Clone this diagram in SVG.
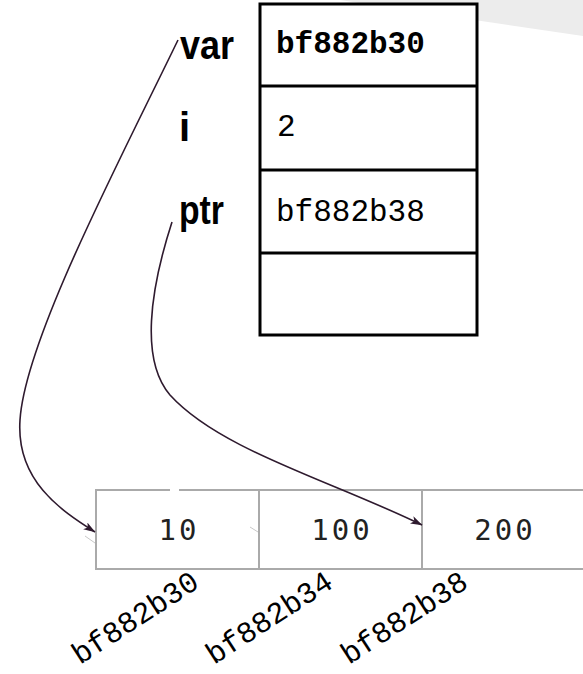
<svg xmlns="http://www.w3.org/2000/svg" width="583" height="674" viewBox="0 0 583 674">
<style>
.lbl{font-family:"Liberation Sans",Arial,sans-serif;font-weight:bold;font-size:40px;fill:#000}
.mono{font-family:"Liberation Mono","Courier New",monospace;font-size:31px;fill:#000}
.cellv{font-family:"DejaVu Sans Mono",monospace;font-size:29px;fill:#222;letter-spacing:3px}
.addr{font-family:"Liberation Mono","Courier New",monospace;font-size:30px;fill:#000}
.conn{fill:none;stroke:#2e1a2e;stroke-width:1.6}
.ghost{fill:none;stroke:#c8c8c8;stroke-width:1}
</style>
<defs>
<marker id="ah" viewBox="0 0 12 8" refX="11.5" refY="4" markerWidth="12" markerHeight="8" markerUnits="userSpaceOnUse" orient="auto">
<path d="M0,0 L12,4 L0,8 L3,4 z" fill="#2e1a2e"/>
</marker>
</defs>
<rect width="583" height="674" fill="#fff"/>
<polygon points="340,0 583,0 583,36" fill="#ececec"/>

<g id="stack">
<rect x="260" y="4" width="217" height="331" fill="#fff" stroke="#000" stroke-width="3"/>
<line x1="260" y1="86" x2="477" y2="86" stroke="#000" stroke-width="3"/>
<line x1="260" y1="170" x2="477" y2="170" stroke="#000" stroke-width="3"/>
<line x1="260" y1="253" x2="477" y2="253" stroke="#000" stroke-width="3"/>
<text class="mono" x="276" y="53" font-weight="bold">bf882b30</text>
<text class="mono" x="277" y="136">2</text>
<text class="mono" x="276" y="221">bf882b38</text>
</g>

<g id="label-var"><text class="lbl" x="180" y="59" textLength="54" lengthAdjust="spacingAndGlyphs">var</text></g>
<g id="label-i"><text class="lbl" x="179" y="141">i</text></g>
<g id="label-ptr"><text class="lbl" x="179" y="224" textLength="45" lengthAdjust="spacingAndGlyphs">ptr</text></g>

<g id="array">
<path d="M585,490 L96,490 L96,569 L585,569" fill="#fff" stroke="#aaa" stroke-width="2"/>
<line x1="259" y1="490" x2="259" y2="569" stroke="#aaa" stroke-width="2"/>
<line x1="422" y1="490" x2="422" y2="569" stroke="#aaa" stroke-width="2"/>
<rect x="170" y="488" width="9" height="3" fill="#fff"/>
<text class="cellv" x="179" y="540" text-anchor="middle">10</text>
<text class="cellv" x="342" y="540" text-anchor="middle">100</text>
<text class="cellv" x="505" y="540" text-anchor="middle">200</text>
</g>

<g id="addresses">
<text class="addr" transform="translate(80,665) rotate(-33)">bf882b30</text>
<text class="addr" transform="translate(214,665) rotate(-33)">bf882b34</text>
<text class="addr" transform="translate(349,665) rotate(-33)">bf882b38</text>
</g>

<g id="connectors">
<path class="conn" d="M178,40 C120,160 25,340 20,420 C16,480 60,510 95,532" marker-end="url(#ah)"/>
<path class="conn" d="M172,222 C150,290 140,360 170,395 C220,450 330,480 422,525" marker-end="url(#ah)"/>
<path class="ghost" d="M85,536 L95,543"/>
<path class="ghost" d="M250,527 L258,532"/>
</g>
</svg>
